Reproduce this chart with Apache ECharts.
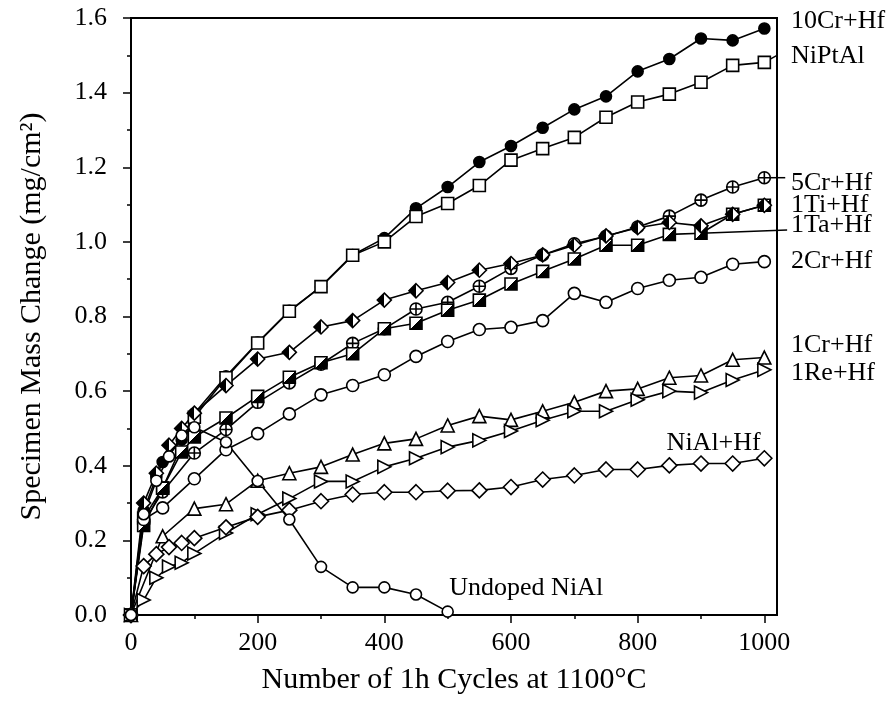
<!DOCTYPE html>
<html>
<head>
<meta charset="utf-8">
<script src="https://cdn.jsdelivr.net/npm/echarts@6/dist/echarts.min.js"></script>
<style>
  html, body { margin: 0; padding: 0; background: #fff; }
  #chart { width: 894px; height: 711px; }
</style>
</head>
<body>
<div id="chart"></div>
<script>
// cycles shared by every series from 150 on
const lateCycles = [150, 200, 250, 300, 350, 400, 450, 500, 550, 600, 650, 700, 750, 800, 850, 900, 950, 1000];

const cr10Cycles = [0, 20, 40, 50, 80, 100].concat(lateCycles);
const cr10Values = [0, 0.28, 0.37, 0.41, 0.47, 0.54,
  0.64, 0.73, 0.815, 0.88, 0.965, 1.01, 1.09, 1.147, 1.214, 1.257, 1.306, 1.355, 1.39, 1.457, 1.49, 1.545, 1.54, 1.572];

const niptalCycles = [0, 20, 50, 100].concat(lateCycles);
const niptalValues = [0, 0.26, 0.34, 0.53,
  0.636, 0.729, 0.814, 0.88, 0.964, 1.0, 1.068, 1.103, 1.151, 1.219, 1.25, 1.28, 1.334, 1.375, 1.396, 1.428, 1.473, 1.481];

const cr5Cycles = [0, 20, 50, 100].concat(lateCycles);
const cr5Values = [0, 0.25, 0.33, 0.434,
  0.497, 0.57, 0.622, 0.672, 0.728, 0.767, 0.82, 0.838, 0.881, 0.929, 0.965, 0.995, 1.015, 1.04, 1.069, 1.112, 1.147, 1.172];

const ti1Cycles = [0, 20, 40, 60, 80, 100].concat(lateCycles);
const ti1Values = [0, 0.30, 0.38, 0.455, 0.50, 0.541,
  0.615, 0.686, 0.704, 0.772, 0.789, 0.844, 0.869, 0.891, 0.924, 0.942, 0.965, 0.991, 1.016, 1.038, 1.052, 1.043, 1.074, 1.098];

const ta1Cycles = [0, 20, 50, 80, 100].concat(lateCycles);
const ta1Values = [0, 0.24, 0.34, 0.437, 0.477,
  0.528, 0.586, 0.637, 0.676, 0.70, 0.767, 0.782, 0.817, 0.844, 0.887, 0.921, 0.954, 0.991, 0.991, 1.02, 1.023, 1.074, 1.098];

const cr2Cycles = [0, 20, 50, 100].concat(lateCycles);
const cr2Values = [0, 0.256, 0.287, 0.365,
  0.443, 0.486, 0.539, 0.59, 0.615, 0.644, 0.693, 0.733, 0.765, 0.771, 0.789, 0.862, 0.838, 0.875, 0.897, 0.905, 0.94, 0.947];

const cr1Cycles = [0, 50, 100].concat(lateCycles);
const cr1Values = [0, 0.211, 0.285,
  0.297, 0.36, 0.38, 0.397, 0.43, 0.46, 0.472, 0.508, 0.533, 0.523, 0.546, 0.57, 0.60, 0.606, 0.636, 0.642, 0.684, 0.69];

const re1Cycles = [0, 20, 40, 60, 80, 100].concat(lateCycles);
const re1Values = [0, 0.04, 0.10, 0.13, 0.14, 0.165,
  0.22, 0.27, 0.312, 0.358, 0.358, 0.397, 0.42, 0.45, 0.468, 0.493, 0.522, 0.546, 0.546, 0.577, 0.60, 0.596, 0.63, 0.657];

const nialhfCycles = [0, 20, 40, 60, 80, 100].concat(lateCycles);
const nialhfValues = [0, 0.131, 0.163, 0.182, 0.193, 0.206,
  0.235, 0.263, 0.281, 0.305, 0.323, 0.329, 0.329, 0.333, 0.334, 0.343, 0.363, 0.374, 0.39, 0.39, 0.401, 0.406, 0.406, 0.42];

const undopedCycles = [0, 20, 40, 60, 80, 100, 150, 200, 250, 300, 350, 400, 450, 500];
const undopedValues = [0, 0.27, 0.36, 0.425, 0.481, 0.503, 0.463, 0.359, 0.256, 0.129, 0.074, 0.074, 0.055, 0.009];

const xMajorTicks = [0, 200, 400, 600, 800, 1000];
const xMinorTicks = [100, 300, 500, 700, 900];

const FONT = '"Liberation Serif", "Times New Roman", serif';

const halfDiamond = new echarts.graphic.LinearGradient(0, 0, 1, 0, [
  { offset: 0, color: '#000' }, { offset: 0.5, color: '#000' },
  { offset: 0.5, color: '#fff' }, { offset: 1, color: '#fff' }
]);
const halfSquare = new echarts.graphic.LinearGradient(0, 0, 1, 1, [
  { offset: 0, color: '#fff' }, { offset: 0.5, color: '#fff' },
  { offset: 0.5, color: '#000' }, { offset: 1, color: '#000' }
]);
const circlePlus = 'path://M0,-10A10,10 0 1,1 0,10A10,10 0 1,1 0,-10ZM-10,0L10,0M0,-10L0,10';

function makeSeries(name, cycles, values, symbol, size, fill, rotate) {
  return {
    name: name,
    type: 'line',
    data: cycles.map((c, i) => [c, values[i]]),
    symbol: symbol,
    symbolSize: size,
    symbolRotate: rotate || 0,
    showAllSymbol: true,
    lineStyle: { color: '#000', width: 1.6 },
    itemStyle: { color: fill, borderColor: '#000', borderWidth: 1.6 },
    emphasis: { disabled: true }
  };
}

const chart = echarts.init(document.getElementById('chart'));
chart.setOption({
  animation: false,
  backgroundColor: '#fff',
  grid: { left: 131, right: 117, top: 18, bottom: 96, show: true, borderColor: '#000', borderWidth: 2 },
  xAxis: [{
    type: 'value', min: 0, max: 1020,
    name: 'Number of 1h Cycles at 1100°C',
    nameLocation: 'middle', nameGap: 50,
    nameTextStyle: { fontFamily: FONT, fontSize: 30, color: '#000' },
    axisLine: { lineStyle: { color: '#000', width: 2 } },
    axisTick: { customValues: xMajorTicks, length: 8, lineStyle: { color: '#000', width: 1.5 } },
    axisLabel: { customValues: xMajorTicks, margin: 15, fontFamily: FONT, fontSize: 26, color: '#000', formatter: v => String(v) },
    splitLine: { show: false }
  }, {
    type: 'value', min: 0, max: 1020, position: 'bottom',
    axisLine: { show: false },
    axisTick: { customValues: xMinorTicks, length: 4, lineStyle: { color: '#000', width: 1.5 } },
    axisLabel: { show: false },
    splitLine: { show: false }
  }],
  yAxis: {
    type: 'value', min: 0, max: 1.6, interval: 0.2,
    name: 'Specimen Mass Change (mg/cm²)',
    nameLocation: 'middle', nameGap: 84,
    nameTextStyle: { fontFamily: FONT, fontSize: 30, color: '#000' },
    axisLine: { show: true, lineStyle: { color: '#000', width: 2 } },
    axisTick: { show: true, length: 8, lineStyle: { color: '#000', width: 1.5 } },
    minorTick: { show: true, splitNumber: 2, length: 4, lineStyle: { color: '#000', width: 1.5 } },
    axisLabel: { margin: 24, fontFamily: FONT, fontSize: 26, color: '#000', formatter: v => v.toFixed(1) },
    splitLine: { show: false }
  },
  series: [
    makeSeries('10Cr+Hf', cr10Cycles, cr10Values, 'circle', 11, '#000'),
    makeSeries('NiPtAl', niptalCycles, niptalValues, 'rect', 12, '#fff'),
    makeSeries('5Cr+Hf', cr5Cycles, cr5Values, circlePlus, 12, '#fff'),
    makeSeries('1Ta+Hf', ta1Cycles, ta1Values, 'rect', 12, halfSquare),
    makeSeries('1Ti+Hf', ti1Cycles, ti1Values, 'diamond', 14, halfDiamond),
    makeSeries('2Cr+Hf', cr2Cycles, cr2Values, 'circle', 12, '#fff'),
    makeSeries('1Cr+Hf', cr1Cycles, cr1Values, 'triangle', 13, '#fff'),
    makeSeries('1Re+Hf', re1Cycles, re1Values, 'triangle', 13, '#fff', -90),
    makeSeries('NiAl+Hf', nialhfCycles, nialhfValues, 'diamond', 15, '#fff'),
    makeSeries('Undoped NiAl', undopedCycles, undopedValues, 'circle', 11, '#fff')
  ]
});

// annotation layout: right-hand labels (y in data units), inner labels, leader lines
const rightLabels = [
  ['10Cr+Hf', 1.591], ['NiPtAl', 1.497], ['5Cr+Hf', 1.158], ['1Ti+Hf', 1.099],
  ['1Ta+Hf', 1.045], ['2Cr+Hf', 0.949], ['1Cr+Hf', 0.722], ['1Re+Hf', 0.647]
];
const innerLabels = [['Undoped NiAl', 624, 0.072], ['NiAl+Hf', 920, 0.46]];
const leaders = [
  [[1000, 1.481], [1020, 1.50]],
  [[1000, 1.172], [1033, 1.172]],
  [[900, 1.023], [1036, 1.032]]
];

const px = p => chart.convertToPixel({ gridIndex: 0 }, p);
const rightEdge = px([1020, 0])[0];
const graphics = [];
rightLabels.forEach(([t, y]) => {
  graphics.push({
    type: 'text', x: rightEdge + 14, y: px([0, y])[1],
    style: { text: t, fill: '#000', font: '26px ' + FONT, textAlign: 'left', textVerticalAlign: 'middle' }
  });
});
innerLabels.forEach(([t, x, y]) => {
  const p = px([x, y]);
  graphics.push({
    type: 'text', x: p[0], y: p[1],
    style: { text: t, fill: '#000', font: '26px ' + FONT, textAlign: 'center', textVerticalAlign: 'middle' }
  });
});
leaders.forEach(([a, b]) => {
  const p1 = px(a), p2 = px(b);
  graphics.push({
    type: 'line', z: 1,
    shape: { x1: p1[0], y1: p1[1], x2: p2[0], y2: p2[1] },
    style: { stroke: '#000', lineWidth: 1.5 }
  });
});
chart.setOption({ graphic: graphics });
</script>
</body>
</html>
